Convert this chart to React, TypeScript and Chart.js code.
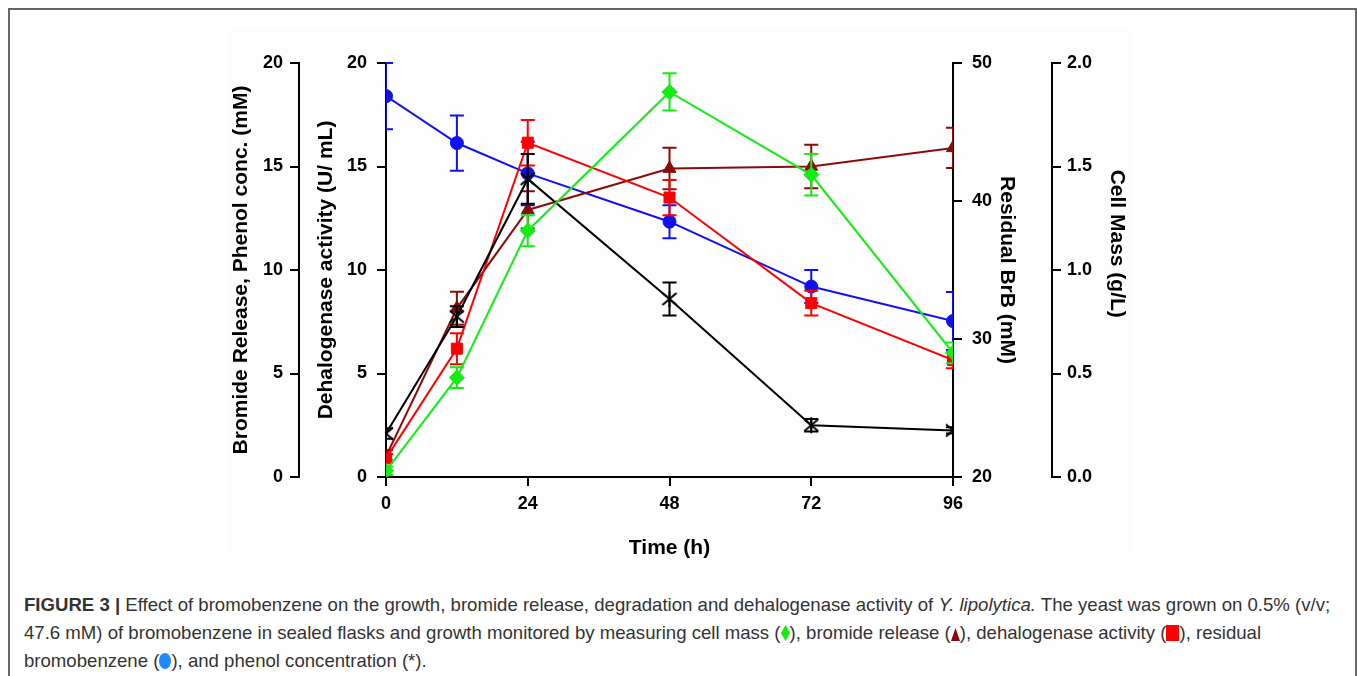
import React, { useEffect, useRef } from "react";
import { Chart, registerables } from "chart.js";

Chart.register(...registerables);

const FONT = "'Liberation Sans', Arial, Helvetica, sans-serif";

// ---- data ----
const TIME = [0, 12, 24, 48, 72, 96];
const X_TICKS = [0, 24, 48, 72, 96];

const CELL_MASS = [0.03, 0.48, 1.19, 1.86, 1.46, 0.6];
const CELL_MASS_ERR = [0.02, 0.05, 0.075, 0.09, 0.1, 0.05];

const BROMIDE = [1.0, 8.15, 12.9, 14.9, 15.0, 15.9];
const BROMIDE_ERR = [0.3, 0.8, 0.9, 1.0, 1.05, 0.97];

const DEHALOGENASE = [0.9, 6.2, 16.15, 13.5, 8.4, 5.65];
const DEHALOGENASE_ERR = [0.2, 0.75, 1.1, 0.85, 0.6, 0.4];

const RESIDUAL_BRB = [47.6, 44.2, 42.0, 38.5, 33.8, 31.3];
const RESIDUAL_BRB_ERR = [2.4, 2.0, 2.3, 1.2, 1.2, 2.1];

const PHENOL = [2.1, 7.75, 14.4, 8.6, 2.5, 2.25];
const PHENOL_ERR = [0.25, 0.5, 1.2, 0.8, 0.3, 0.15];

const pts = (vals: number[]) => TIME.map((t, i) => ({ x: t, y: vals[i] }));

function makeAsterisk() {
  const c = document.createElement("canvas");
  c.width = 18;
  c.height = 18;
  const g = c.getContext("2d")!;
  g.strokeStyle = "#000";
  g.lineWidth = 2;
  g.beginPath();
  g.moveTo(9, 1);
  g.lineTo(9, 17);
  g.moveTo(2, 3);
  g.lineTo(16, 15);
  g.moveTo(2, 15);
  g.lineTo(16, 3);
  g.stroke();
  return c;
}

const errorBarPlugin = {
  id: "errorBars",
  beforeDatasetDraw(chart: any, args: any) {
    const ds = chart.data.datasets[args.index];
    const errs: number[] | undefined = ds.errors;
    if (!errs) return;
    const meta = args.meta;
    const yScale = chart.scales[meta.yAxisID];
    const area = chart.chartArea;
    const ctx = chart.ctx;
    ctx.save();
    ctx.beginPath();
    ctx.rect(area.left, area.top - 2, area.right - area.left, area.bottom - area.top + 4);
    ctx.clip();
    ctx.strokeStyle = ds.borderColor;
    ctx.lineWidth = 2;
    meta.data.forEach((pt: any, i: number) => {
      const v = ds.data[i].y;
      const e = errs[i];
      const yTop = yScale.getPixelForValue(v + e);
      const yBot = yScale.getPixelForValue(v - e);
      const x = pt.x;
      ctx.beginPath();
      ctx.moveTo(x, yTop);
      ctx.lineTo(x, yBot);
      ctx.moveTo(x - 7, yTop);
      ctx.lineTo(x + 7, yTop);
      ctx.moveTo(x - 7, yBot);
      ctx.lineTo(x + 7, yBot);
      ctx.stroke();
    });
    ctx.restore();
  },
};

const tickFont = { family: FONT, size: 18, weight: "bold" as const };
const titleFont = { family: FONT, size: 21, weight: "bold" as const, lineHeight: 1.2 };

const gridOpts = {
  display: true,
  drawOnChartArea: false,
  drawTicks: true,
  tickLength: 9,
  tickWidth: 2,
  tickColor: "#000",
  color: "#000",
  lineWidth: 2,
};
const borderOpts = { display: true, color: "#000", width: 2 };

export default function App() {
  const ref = useRef<HTMLCanvasElement>(null);

  useEffect(() => {
    if (!ref.current) return;
    const asterisk = makeAsterisk();
    const common = {
      type: "line" as const,
      showLine: true,
      borderWidth: 2,
      tension: 0,
      pointBorderWidth: 1,
      clip: 0,
    };
    const chart = new Chart(ref.current, {
      type: "line",
      data: {
        datasets: [
          {
            ...common,
            label: "Cell mass",
            data: pts(CELL_MASS),
            errors: CELL_MASS_ERR,
            yAxisID: "yCell",
            borderColor: "#11ee11",
            backgroundColor: "#11ee11",
            pointStyle: "rectRot",
            pointRadius: 7.5,
          },
          {
            ...common,
            label: "Phenol concentration",
            data: pts(PHENOL),
            errors: PHENOL_ERR,
            yAxisID: "yBr",
            borderColor: "#000000",
            backgroundColor: "#000000",
            pointStyle: asterisk,
            pointRadius: 9,
          },
          {
            ...common,
            label: "Dehalogenase activity",
            data: pts(DEHALOGENASE),
            errors: DEHALOGENASE_ERR,
            yAxisID: "yDh",
            borderColor: "#ff0000",
            backgroundColor: "#ff0000",
            pointStyle: "rect",
            pointRadius: 7.8,
          },
          {
            ...common,
            label: "Bromide release",
            data: pts(BROMIDE),
            errors: BROMIDE_ERR,
            yAxisID: "yBr",
            borderColor: "#8b0a0a",
            backgroundColor: "#8b0a0a",
            pointStyle: "triangle",
            pointRadius: 7.5,
          },
          {
            ...common,
            label: "Residual bromobenzene",
            data: pts(RESIDUAL_BRB),
            errors: RESIDUAL_BRB_ERR,
            yAxisID: "yRes",
            borderColor: "#1010f0",
            backgroundColor: "#1010f0",
            pointStyle: "circle",
            pointRadius: 6.5,
          },
        ] as any,
      },
      plugins: [errorBarPlugin],
      options: {
        responsive: false,
        animation: false,
        events: [],
        layout: { padding: { left: 228, right: 227, top: 63, bottom: 5 } },
        plugins: { legend: { display: false }, tooltip: { enabled: false } },
        scales: {
          x: {
            type: "linear",
            position: "bottom",
            min: 0,
            max: 96,
            afterBuildTicks: (s: any) => {
              s.ticks = X_TICKS.map((v) => ({ value: v }));
            },
            afterFit: (s: any) => {
              s.height = 90;
            },
            ticks: { font: tickFont, color: "#000", padding: 7, maxRotation: 0 },
            grid: gridOpts,
            border: borderOpts,
            title: {
              display: true,
              text: "Time (h)",
              font: titleFont,
              color: "#000",
              padding: { top: 0, bottom: 6 },
            },
          },
          yBr: {
            type: "linear",
            position: "left",
            weight: 2,
            min: 0,
            max: 20,
            ticks: { stepSize: 5, font: tickFont, color: "#000", padding: 7 },
            afterFit: (s: any) => {
              s.width = 71;
            },
            grid: gridOpts,
            border: borderOpts,
            title: {
              display: true,
              text: "Bromide Release, Phenol conc. (mM)",
              font: titleFont,
              color: "#000",
              padding: { top: 1, bottom: 0 },
            },
          },
          yDh: {
            type: "linear",
            position: "left",
            weight: 1,
            min: 0,
            max: 20,
            ticks: { stepSize: 5, font: tickFont, color: "#000", padding: 10 },
            afterFit: (s: any) => {
              s.width = 87;
            },
            grid: gridOpts,
            border: borderOpts,
            title: {
              display: true,
              text: "Dehalogenase activity (U/ mL)",
              font: titleFont,
              color: "#000",
              padding: { top: 15, bottom: 0 },
            },
          },
          yRes: {
            type: "linear",
            position: "right",
            weight: 1,
            min: 20,
            max: 50,
            ticks: { stepSize: 10, font: tickFont, color: "#000", padding: 10 },
            afterFit: (s: any) => {
              s.width = 99;
            },
            grid: gridOpts,
            border: borderOpts,
            title: {
              display: true,
              text: "Residual BrB (mM)",
              font: titleFont,
              color: "#000",
              padding: { top: 33, bottom: 0 },
            },
          },
          yCell: {
            type: "linear",
            position: "right",
            weight: 2,
            min: 0,
            max: 2,
            ticks: {
              stepSize: 0.5,
              font: tickFont,
              color: "#000",
              padding: 6,
              callback: (v: any) => Number(v).toFixed(1),
            },
            afterFit: (s: any) => {
              s.width = 78;
            },
            grid: gridOpts,
            border: borderOpts,
            title: {
              display: true,
              text: "Cell Mass (g/L)         ",
              font: titleFont,
              color: "#000",
              padding: { top: 1, bottom: 0 },
            },
          },
        },
      } as any,
    });
    return () => chart.destroy();
  }, []);

  const glyph = { display: "inline-block", verticalAlign: "-2px" } as const;

  return (
    <div
      style={{
        position: "absolute",
        left: 0,
        top: 0,
        width: 1357,
        height: 676,
        overflow: "hidden",
        background: "#fff",
      }}
    >
      <div
        style={{
          position: "absolute",
          left: 8,
          top: 8,
          width: 1349,
          height: 740,
          border: "2px solid #666",
          boxSizing: "border-box",
        }}
      />
      <div
        style={{
          position: "absolute",
          left: 230,
          top: 28,
          width: 900,
          height: 531,
          background: "#fdfdfd",
        }}
      />
      <canvas
        ref={ref}
        width={1357}
        height={572}
        style={{ position: "absolute", left: 0, top: 0, width: 1357, height: 572 }}
      />
      <div
        style={{
          position: "absolute",
          left: 24,
          top: 591,
          fontFamily: FONT,
          fontSize: 18.6,
          lineHeight: "28px",
          color: "#333",
          whiteSpace: "nowrap",
        }}
      >
        <b>FIGURE 3 |</b> Effect of bromobenzene on the growth, bromide release, degradation and
        dehalogenase activity of <i>Y. lipolytica.</i> The yeast was grown on 0.5% (v/v;
        <br />
        47.6 mM) of bromobenzene in sealed flasks and growth monitored by measuring cell mass (
        <svg width="9" height="16" style={glyph}>
          <polygon points="4.5,0 9,8 4.5,16 0,8" fill="#11ee11" />
        </svg>
        ), bromide release (
        <svg width="9" height="13" style={glyph}>
          <polygon points="4.5,0 9,13 0,13" fill="#8b0a0a" />
        </svg>
        ), dehalogenase activity (
        <svg width="13" height="16" style={glyph}>
          <rect x="0" y="0" width="13" height="16" fill="#ff0000" />
        </svg>
        ), residual
        <br />
        bromobenzene (
        <svg width="12" height="16" style={glyph}>
          <ellipse cx="6" cy="8" rx="6" ry="8" fill="#1a8cff" />
        </svg>
        ), and phenol concentration (*).
      </div>
    </div>
  );
}
